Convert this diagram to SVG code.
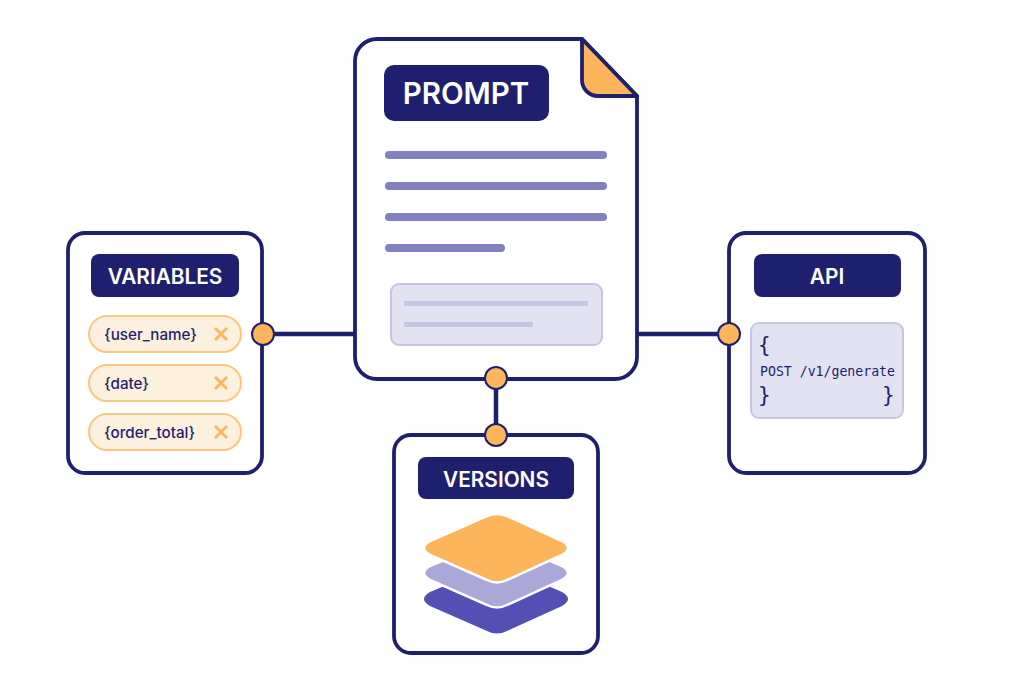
<svg xmlns="http://www.w3.org/2000/svg" width="1024" height="683" viewBox="0 0 1024 683">
<style>
.card{fill:#fff;stroke:#1f1f6f;stroke-width:3.8}
.lab{fill:#1f1f6f}
.t{font-family:"Inter","Liberation Sans",sans-serif;font-weight:600;fill:#fff;text-anchor:middle}
.pill{fill:#fdf0df;stroke:#fbc880;stroke-width:2}
.v{font-family:"Inter","Liberation Sans",sans-serif;font-size:15.2px;font-weight:500;fill:#1f1f6f}
.x{stroke:#fdb55c;stroke-width:2.8;fill:none}
.bar{fill:#8280c0}
.thin{fill:#c6c5e4}
.box{fill:#e2e2f1;stroke:#c6c5e4;stroke-width:2}
.m{font-family:"DejaVu Sans Mono","Liberation Mono",monospace;fill:#1f1f6f}
.c{stroke:#1f1f6f;stroke-width:4.5;fill:none}
.dot{fill:#fdb55c;stroke:#1f1f6f;stroke-width:2}
</style>
<rect width="1024" height="683" fill="#fefefe"/>
<g id="connectors">
<path class="c" d="M262 334H355"/>
<path class="c" d="M637 334H729"/>
<path class="c" d="M496 378V435"/>
</g>
<g id="prompt">
<path class="card" d="M377 39H582L637 96V357A22 22 0 0 1 615 379H377A22 22 0 0 1 355 357V61A22 22 0 0 1 377 39Z"/>
<path d="M582 39L637 96H598A16 16 0 0 1 582 80Z" fill="#fdb55c" stroke="#1f1f6f" stroke-width="3.8" stroke-linejoin="round"/>
<rect class="lab" x="384" y="65" width="165" height="56" rx="10"/>
<text class="t" x="466" y="104" font-size="29.5">PROMPT</text>
<rect class="bar" x="385" y="151" width="222" height="8" rx="4"/>
<rect class="bar" x="385" y="182" width="222" height="8" rx="4"/>
<rect class="bar" x="385" y="213" width="222" height="8" rx="4"/>
<rect class="bar" x="385" y="244" width="120" height="8" rx="4"/>
<rect class="box" x="391" y="284" width="211" height="61" rx="8"/>
<rect class="thin" x="404" y="301" width="184" height="5"/>
<rect class="thin" x="404" y="322" width="129" height="5"/>
</g>
<g id="variables">
<rect class="card" x="68" y="233" width="194" height="240" rx="17"/>
<rect class="lab" x="91" y="254" width="148" height="43" rx="8"/>
<text class="t" x="165" y="284" font-size="20.8">VARIABLES</text>
<rect class="pill" x="89" y="316" width="152" height="36" rx="18"/>
<text class="v" x="104" y="339.5">{user_name}</text>
<path class="x" d="M215 328L227 340M227 328L215 340"/>
<rect class="pill" x="89" y="365" width="152" height="36" rx="18"/>
<text class="v" x="104" y="388.5">{date}</text>
<path class="x" d="M215 377L227 389M227 377L215 389"/>
<rect class="pill" x="89" y="414" width="152" height="36" rx="18"/>
<text class="v" x="104" y="437.5">{order_total}</text>
<path class="x" d="M215 426L227 438M227 426L215 438"/>
</g>
<g id="api">
<rect class="card" x="729" y="233" width="196" height="240" rx="17"/>
<rect class="lab" x="754" y="254" width="147" height="43" rx="8"/>
<text class="t" x="827" y="284" font-size="20.8">API</text>
<rect class="box" x="751" y="323" width="152" height="95" rx="8"/>
<text class="m" x="758" y="352" font-size="21">{</text>
<text class="m" x="760" y="376" font-size="13.2">POST /v1/generate</text>
<text class="m" x="758" y="402" font-size="21">}</text>
<text class="m" x="882" y="402" font-size="21">}</text>
</g>
<g id="versions">
<rect class="card" x="394" y="435" width="204" height="218" rx="17"/>
<rect class="lab" x="418" y="457" width="156" height="42" rx="8"/>
<text class="t" x="496" y="487" font-size="20.8">VERSIONS</text>
<path d="M487 568Q497 564 507 568L562 592Q574 599 562 606L507 631Q497 636 487 631L430 606Q418 599 430 592Z" fill="#5250b5"/>
<path d="M487 542Q497 538 507 542L562 566Q574 573 562 580L507 605Q497 610 487 605L430 580Q418 573 430 566Z" fill="#a9a8d8" stroke="#fff" stroke-width="2.5"/>
<path d="M487 516Q497 512 507 516L562 541Q574 548 562 555L507 580Q497 585 487 580L430 555Q418 548 430 541Z" fill="#fdb55c" stroke="#fff" stroke-width="2.5"/>
</g>
<g id="ports">
<circle class="dot" cx="263" cy="334" r="11"/>
<circle class="dot" cx="729" cy="334" r="11"/>
<circle class="dot" cx="496" cy="378" r="11"/>
<circle class="dot" cx="496" cy="435" r="11"/>
</g>
</svg>
